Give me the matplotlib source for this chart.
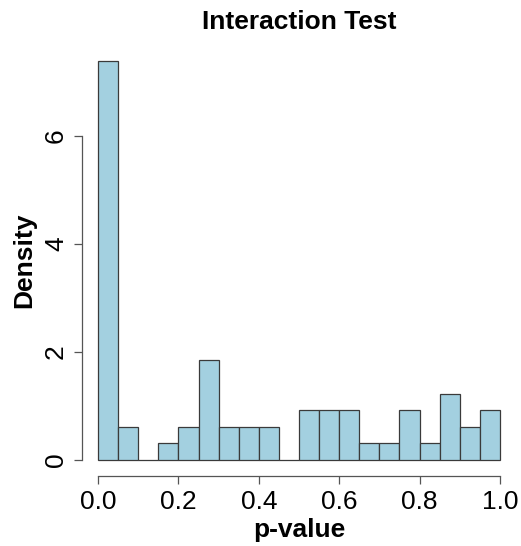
import matplotlib
matplotlib.use("Agg")
import matplotlib.pyplot as plt
import numpy as np

bin_edges = [i * 0.05 for i in range(21)]
counts = [24, 2, 0, 1, 2, 6, 2, 2, 2, 0, 3, 3, 3, 1, 1, 3, 1, 4, 2, 3]
n_total = 65
x_ticks = [0.0, 0.2, 0.4, 0.6, 0.8, 1.0]
x_tick_labels = ["0.0", "0.2", "0.4", "0.6", "0.8", "1.0"]
y_ticks = [0, 2, 4, 6]
y_tick_labels = ["0", "2", "4", "6"]

plt.rcParams['font.family'] = ['Liberation Sans', 'DejaVu Sans']

edges = np.array(bin_edges)
widths = np.diff(edges)
density = np.array(counts) / (n_total * widths)

fig = plt.figure(figsize=(5.21, 5.46), dpi=100)
ax = fig.add_axes([82/521, 70/546, 434/521, 431/546])

ax.bar(edges[:-1], density, width=widths, align='edge',
       color='#A3D0E0', edgecolor='#3a3a3a', linewidth=0.9)

xr = edges[-1] - edges[0]
ax.set_xlim(edges[0] - 0.04 * xr, edges[-1] + 0.04 * xr)
ymax = density.max()
ax.set_ylim(-0.04 * ymax, ymax * 1.04)

for s in ['top', 'right']:
    ax.spines[s].set_visible(False)
ax.spines['left'].set_bounds(0, 6)
ax.spines['bottom'].set_bounds(0, 1)
for s in ['left', 'bottom']:
    ax.spines[s].set_color('#555555')
    ax.spines[s].set_linewidth(0.9)

ax.set_xticks(x_ticks)
ax.set_xticklabels(x_tick_labels)
ax.set_yticks(y_ticks)
ax.set_yticklabels(y_tick_labels, rotation=90, va='center')
ax.tick_params(axis='both', length=6, width=0.9, color='#555555',
               labelsize=19, pad=4)

ax.set_xlabel('p-value', fontsize=19, fontweight='bold', labelpad=3)
ax.set_ylabel('Density', fontsize=19, fontweight='bold', labelpad=6)
ax.set_title('Interaction Test', fontsize=19, fontweight='bold', pad=11.5)

fig.savefig('out.png', dpi=100)
